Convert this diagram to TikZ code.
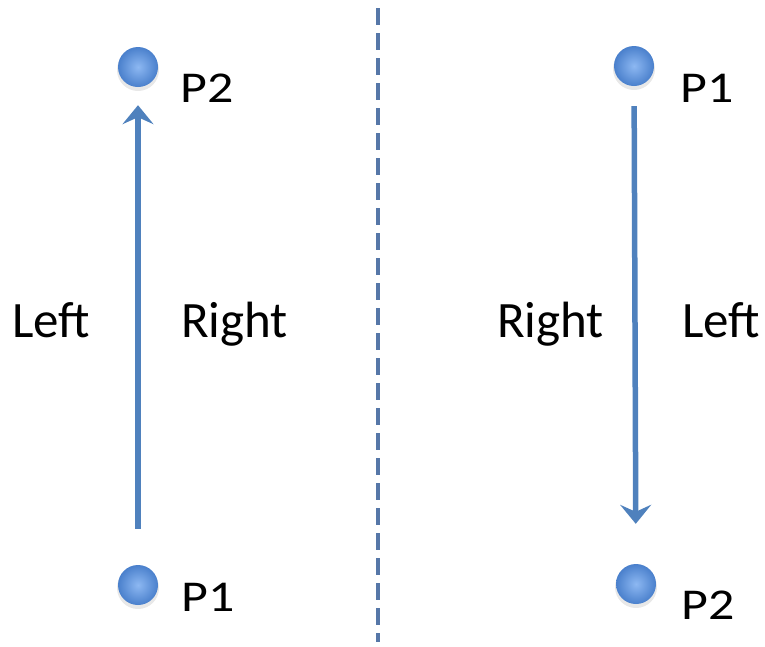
\documentclass[tikz,border=0pt]{standalone}
\usepackage{fontspec}
\setmainfont{Carlito}
\newfontfamily\plabelfont[FakeStretch=1.18]{Carlito}
\usetikzlibrary{arrows.meta}
\definecolor{lineblue}{HTML}{4F81BD}
\definecolor{dashblue}{HTML}{5677A8}
\definecolor{dotin}{HTML}{8DB8F2}
\definecolor{dotout}{HTML}{4A80CC}
\tikzset{
  dot/.style={circle, minimum size=40pt, inner sep=0pt, inner color=dotin, outer color=dotout},
  dotshadow/.style={fill=black!18, opacity=0.5},
  plbl/.style={anchor=base west, inner sep=0pt, font=\plabelfont\fontsize{44}{50}\selectfont},
  slbl/.style={anchor=base west, inner sep=0pt, font=\fontsize{51}{56}\selectfont},
  vec/.style={draw=lineblue, line width=5.5pt, -{Stealth[length=19pt,width=31pt,inset=7pt]}},
}
\begin{document}
\begin{tikzpicture}[x=1pt,y=-1pt]
\useasboundingbox (0,0) rectangle (765,646);
% divider
\coordinate (dtop) at (378,8);
\coordinate (dbot) at (378,642);
\draw[dashblue, line width=3.5pt, dash pattern=on 17pt off 8pt] (dtop) -- (dbot);
% shadows
\foreach \p in {(138,70),(138,588),(634,69),(636,587)}
  \fill[dotshadow] \p circle (21pt);
% left
\node[dot] (l2) at (138,67) {};
\node[dot] (l1) at (138,585) {};
\node[plbl] (tl2) at (180,102) {P2};
\node[plbl] (tl1) at (181,611) {P1};
\node[slbl] (tll) at (12,337) {Left};
\node[slbl] (tlr) at (181,337) {Right};
\draw[vec, shorten <=36pt, shorten >=18pt] (l1) -- (l2);
% right
\node[dot] (r1) at (634,66) {};
\node[dot] (r2) at (636,584) {};
\node[plbl] (tr1) at (680,102) {P1};
\node[plbl] (tr2) at (681,619) {P2};
\node[slbl] (trr) at (497,337) {Right};
\node[slbl] (trl) at (682,337) {Left};
\draw[vec, shorten <=20pt, shorten >=40pt] (r1) -- (r2);
\end{tikzpicture}
\end{document}
